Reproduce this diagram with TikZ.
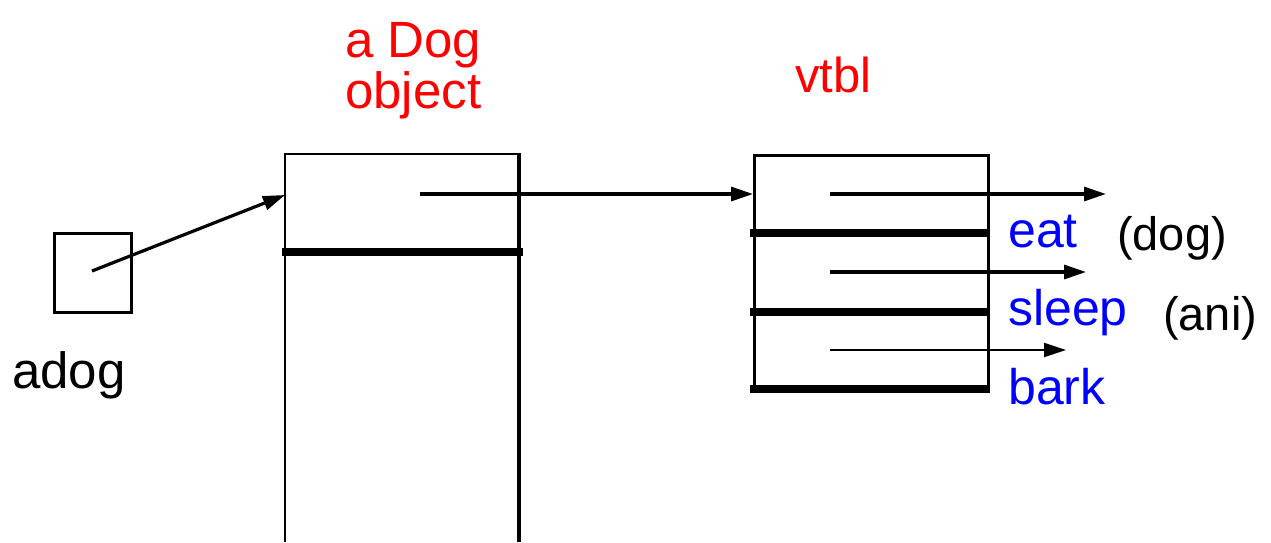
\documentclass[tikz,border=0pt]{standalone}
\usepackage{fontspec}
\setmainfont{Liberation Sans}
\usetikzlibrary{arrows.meta}
\definecolor{lblred}{RGB}{255,0,0}
\definecolor{lblblue}{RGB}{0,0,255}
\begin{document}
\begin{tikzpicture}[x=1pt,y=-1pt,
  box/.style={draw,line width=2.6pt,inner sep=0pt,anchor=north west},
  sep/.style={line width=8pt},
  ptr/.style={line width=3.2pt,-{Triangle[length=22pt,width=14pt]}},
  redlbl/.style={text=lblred,font=\fontsize{51}{56}\selectfont,anchor=base west,inner sep=0pt},
  bluelbl/.style={text=lblblue,font=\fontsize{50}{56}\selectfont,anchor=base west,inner sep=0pt},
  blacklbl/.style={text=black,font=\fontsize{47}{56}\selectfont,anchor=base west,inner sep=0pt}]
\useasboundingbox (0,0) rectangle (1271,542);

% the pointer variable
\node[box,minimum width=77pt,minimum height=79pt] (adogbox) at (53,232) {};
\node[blacklbl,font=\fontsize{51}{56}\selectfont] (adoglbl) at (12,388) {adog};
\coordinate (adogc) at (92,271);

% the object record (runs off the bottom)
\draw[line width=2.6pt] (285,542) -- (285,154) -- (519,154);
\draw[line width=4.2pt] (519,153) -- (519,542);
\coordinate (objin) at (285,195);
\draw[sep] (282,252) -- (523,252);
\node[redlbl] (objlbl1) at (345,57) {a Dog};
\node[redlbl] (objlbl2) at (345,108) {object};
\coordinate (vptr) at (420,194);

% the vtable
\node[box,minimum width=234pt,minimum height=234pt] (vtbl) at (753,154) {};
\node[redlbl,font=\fontsize{49}{56}\selectfont] (vtbllbl) at (795,92) {vtbl};
\draw[sep] (750,233) -- (990,233);
\draw[sep] (750,312) -- (990,312);
\draw[sep] (750,389) -- (990,389);
\coordinate (e1) at (830,194);
\coordinate (e2) at (830,272);
\coordinate (e3) at (830,350);
\coordinate (t1) at (1106,194);
\coordinate (t2) at (1086,272);
\coordinate (t3) at (1066,350);

\node[bluelbl] (eat) at (1008,247) {eat};
\node[bluelbl] (sleep) at (1008,325) {sleep};
\node[bluelbl] (bark) at (1008,404) {bark};
\node[blacklbl] (dog) at (1117,250) {(dog)};
\node[blacklbl] (ani) at (1163,330) {(ani)};

% pointers
\draw[ptr] (adogc) -- (objin);
\draw[ptr] (vptr) -- (vtbl.west |- vptr);
\draw[ptr] (e1) -- (t1);
\draw[ptr] (e2) -- (t2);
\draw[ptr,line width=2.2pt] (e3) -- (t3);
\end{tikzpicture}
\end{document}
